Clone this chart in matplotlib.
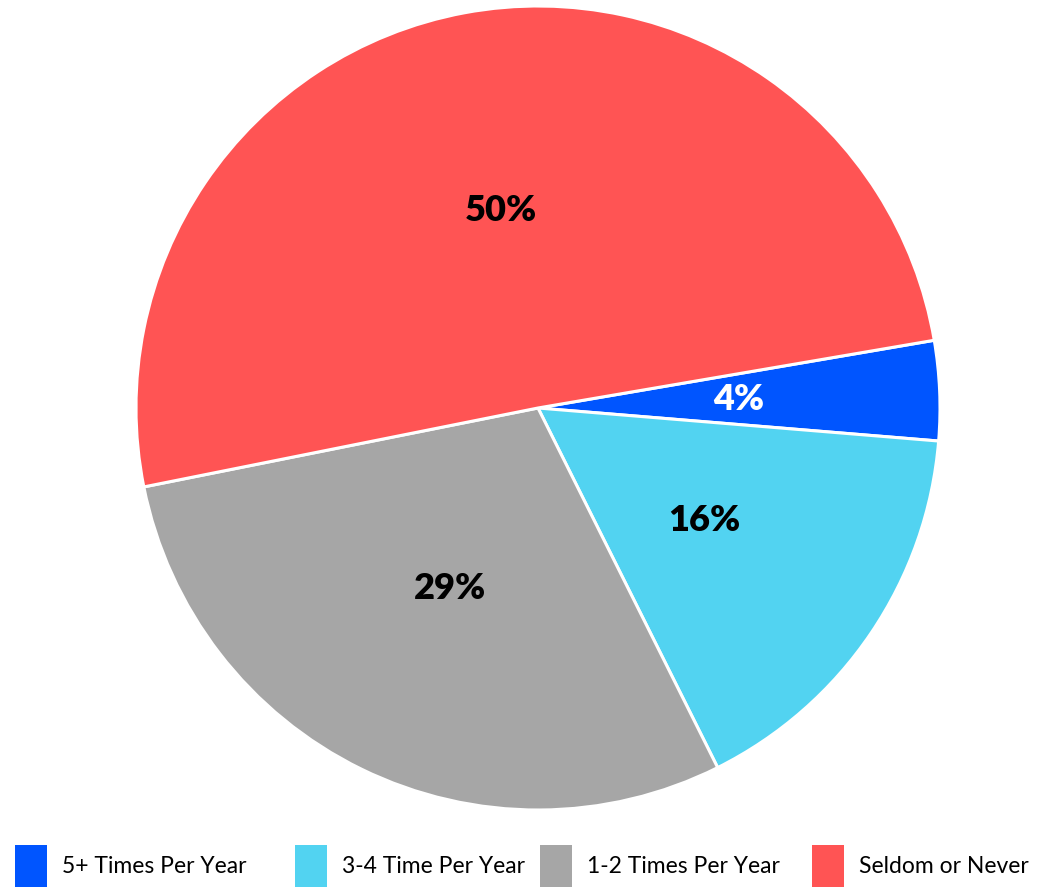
import matplotlib.pyplot as plt
from matplotlib.patches import Patch

categories = ['5+ Times Per Year', '3-4 Time Per Year', '1-2 Times Per Year', 'Seldom or Never']
shares = [4.0, 16.3, 29.2, 50.4]
colors = ['#0055ff', '#52d3f1', '#a6a6a6', '#ff5454']
label_colors = ['white', 'black', 'black', 'black']

plt.rcParams['font.family'] = ['Lato', 'DejaVu Sans']

W, H = 1045, 889
fig = plt.figure(figsize=(W / 100, H / 100), dpi=100)
cx, cy, r = 538, 408, 402
ax = fig.add_axes([(cx - r) / W, (H - cy - r) / H, 2 * r / W, 2 * r / H])

wedges, texts, autotexts = ax.pie(
    shares, colors=colors, startangle=9.7, counterclock=False,
    autopct='%.0f%%', pctdistance=0.5, radius=1.0,
    wedgeprops=dict(edgecolor='white', linewidth=2.2),
    textprops=dict(fontsize=26, fontweight='heavy'))
for t, c in zip(autotexts, label_colors):
    t.set_color(c)
ax.set_xlim(-1, 1)
ax.set_ylim(-1, 1)
ax.set_aspect('auto')
ax.axis('off')

# one legend per entry so each sits where the reference puts it
leg_x = [15, 295, 540, 812]
for c, name, x in zip(colors, categories, leg_x):
    leg = fig.legend([Patch(facecolor=c, edgecolor='none')], [name],
                     loc='lower left', bbox_to_anchor=(x / W, 2 / H),
                     frameon=False, fontsize=16.5, borderaxespad=0, borderpad=0,
                     handlelength=1.4, handleheight=2.44, handletextpad=0.65)

fig.savefig('out.png', dpi=100)
